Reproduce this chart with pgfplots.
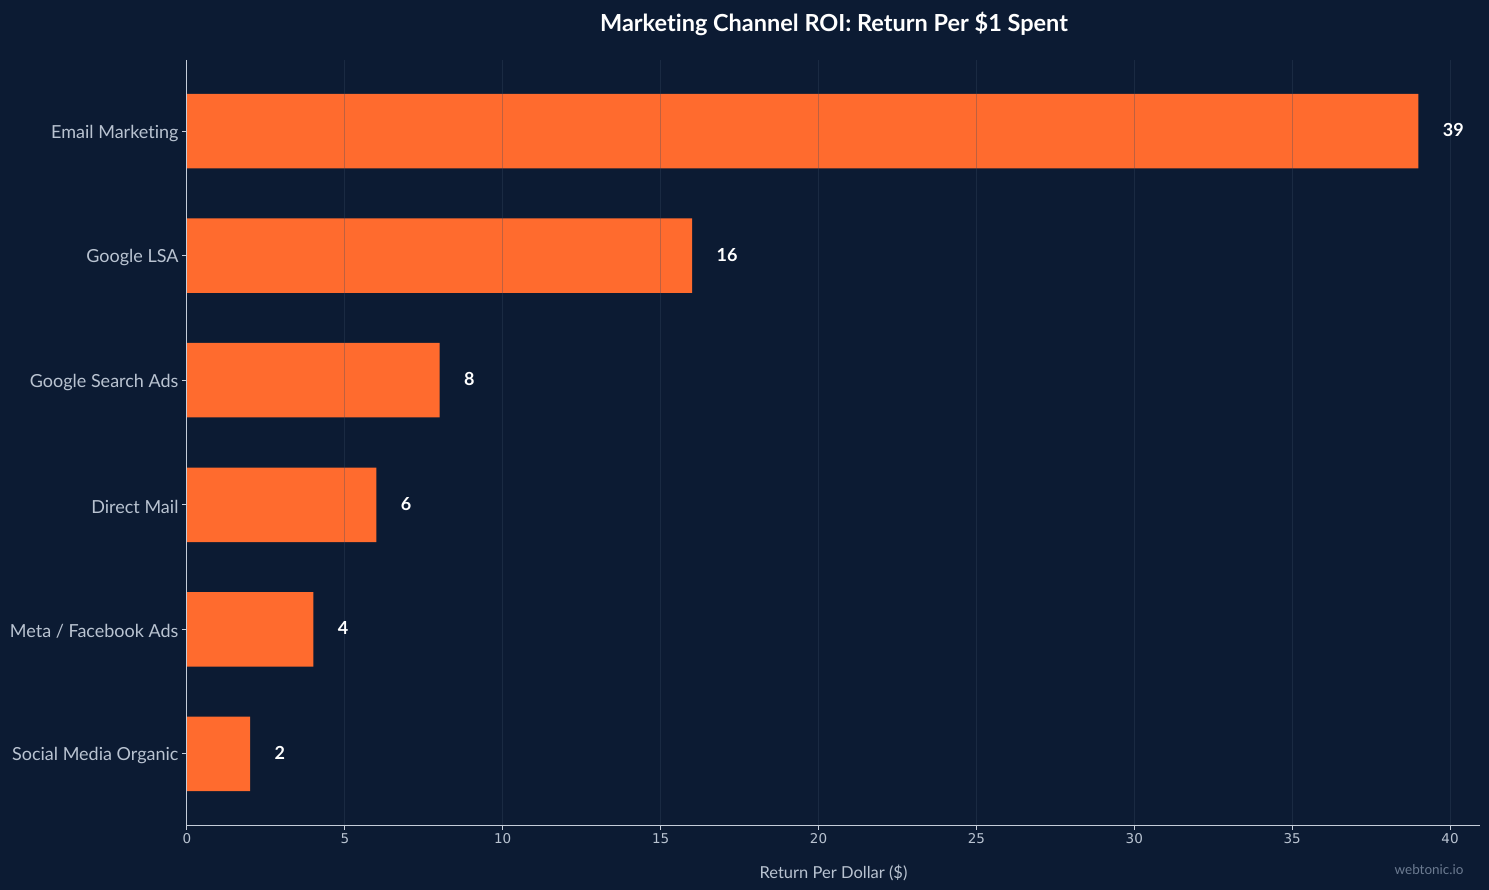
\documentclass[border=0pt]{standalone}
\usepackage{pgfplots}
\pgfplotsset{compat=1.18}
\usepackage{fontspec}
\setmainfont{Lato}[Ligatures=NoCommon]
\newfontfamily\dejavu{DejaVu Sans}
\definecolor{bg}{HTML}{0C1B33}
\definecolor{barc}{HTML}{FF6B2E}
\definecolor{axc}{HTML}{C5CDD9}
\definecolor{labc}{HTML}{B9C3D1}
\definecolor{gridc}{HTML}{3A4A63}
\definecolor{wm}{HTML}{6C7B91}
\pgfplotstableread{
y val
0 39
1 16
2 8
3 6
4 4
5 2
}\datatab
\begin{document}
\begin{tikzpicture}[x=1pt,y=1pt]
\fill[bg] (0,0) rectangle (1489,890);
\begin{axis}[
  at={(187pt,65pt)}, anchor=south west,
  width=1293pt, height=765pt, scale only axis,
  xbar, bar width=74.5pt,
  y dir=reverse,
  xmin=0, xmax=40.95,
  ymin=-0.57, ymax=5.57,
  ytick={0,...,5},
  yticklabels={Email Marketing,Google LSA,Google Search Ads,Direct Mail,Meta / Facebook Ads,Social Media Organic},
  xtick={0,5,...,40},
  axis x line*=bottom, axis y line*=left,
  axis line style={axc, line width=1pt},
  major tick style={axc, line width=1pt},
  tick align=outside, major tick length=5pt,
  xticklabel style={font=\dejavu\fontsize{13.5}{15}\selectfont, text=labc},
  yticklabel style={font=\fontsize{18}{20}\selectfont, text=labc, yshift=-2pt},
  xticklabel={\pgfmathprintnumber[assume math mode=true]{\tick}},
  xmajorgrids, grid style={gridc, line width=1pt, opacity=0.32},
  axis on top,
  xlabel={Return Per Dollar (\$)},
  xlabel style={font=\fontsize{16.5}{19}\selectfont, text=labc, yshift=-14pt},
  nodes near coords,
  nodes near coords style={font=\bfseries\fontsize{18}{20}\selectfont, text=white, anchor=west, xshift=21pt, yshift=1pt, /pgf/number format/assume math mode=true},
  point meta=explicit,
]
\addplot[fill=barc, draw=none] table[x=val, y=y, meta=val] {\datatab};
\end{axis}
\node[font=\bfseries\fontsize{23.5}{28}\selectfont, text=white] at (834,866) {Marketing Channel ROI: Return Per \$1 Spent};
\node[font=\fontsize{13.5}{16}\selectfont, text=wm, anchor=east] at (1467,20) {webtonic.io};
\end{tikzpicture}
\end{document}
